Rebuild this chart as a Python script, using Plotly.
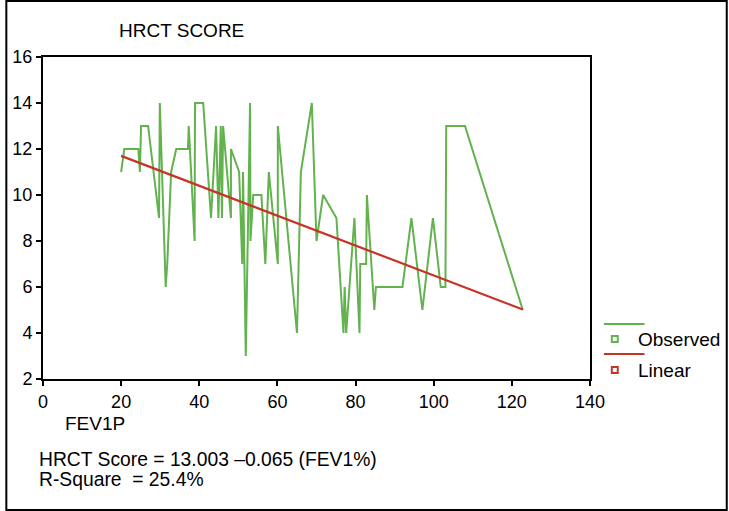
import plotly.graph_objects as go

# ---- data ----
fev1p = [20, 20.8, 24.4, 24.8, 25.1, 26.9, 29.7, 29.9, 31.4, 31.8, 32.8, 34.1, 37.1, 37.3,
         38.8, 38.9, 41.0, 43.0, 44.3, 44.9, 45.5, 45.8, 46.1, 48.1, 48.1, 50.2, 51.0, 51.2,
         51.9, 53.0, 53.1, 53.8, 55.9, 56.9, 57.8, 60.1, 60.1, 65.0, 66.0, 68.8, 70.0, 71.7,
         75.1, 76.9, 77.2, 77.6, 79.7, 81.0, 81.2, 82.7, 82.9, 84.4, 84.8, 85.2, 92.0, 94.3,
         97.1, 99.8, 101.8, 103.0, 103.2, 108.0, 122.8]
hrct_observed = [11, 12, 12, 11, 13, 13, 9, 14, 6, 7, 11, 12, 12, 13,
                 8, 14, 14, 9, 13, 9, 13, 9, 13, 9, 12, 11, 7, 11,
                 3, 14, 8, 10, 10, 7, 11, 7, 13, 4, 11, 14, 8, 10,
                 9, 4, 6, 4, 9, 4, 7, 7, 10, 6, 5, 6, 6, 9,
                 5, 9, 6, 6, 13, 13, 5]
linear_x = [20, 122.8]
linear_y = [11.70, 5.02]
x_ticks = [0, 20, 40, 60, 80, 100, 120, 140]
y_ticks = [2, 4, 6, 8, 10, 12, 14, 16]

GREEN = "rgb(98,178,78)"
RED = "rgb(198,52,40)"
FONT = "Liberation Sans, Arial, sans-serif"

FW, FH = 729, 511
L, T, W, H = 38, 57, 552, 322


def px(x):
    return (x - L) / W


def py(y):
    return (T + H - y) / H


fig = go.Figure()
fig.add_trace(go.Scatter(x=fev1p, y=hrct_observed, mode="lines",
                         line=dict(color=GREEN, width=2), showlegend=False))
fig.add_trace(go.Scatter(x=linear_x, y=linear_y, mode="lines",
                         line=dict(color=RED, width=2.2), showlegend=False))

axis_common = dict(showline=True, linecolor="black", linewidth=2, mirror=True,
                   ticks="outside", ticklen=5, tickwidth=1.5, tickcolor="black",
                   showgrid=False, zeroline=False,
                   tickfont=dict(family=FONT, size=18, color="black"))
fig.update_xaxes(range=[0, 140], tickvals=x_ticks, **axis_common)
fig.update_yaxes(range=[2, 16], tickvals=y_ticks, **axis_common)

shapes = [
    dict(type="rect", xref="paper", yref="paper", x0=px(1), x1=px(728), y0=py(510), y1=py(1),
         line=dict(color="black", width=2)),
    # legend keys
    dict(type="line", xref="paper", yref="paper", x0=px(604), x1=px(645), y0=py(324), y1=py(324),
         line=dict(color=GREEN, width=2)),
    dict(type="rect", xref="paper", yref="paper", x0=px(612), x1=px(618), y0=py(342), y1=py(336),
         line=dict(color=GREEN, width=2)),
    dict(type="line", xref="paper", yref="paper", x0=px(604), x1=px(645), y0=py(354), y1=py(354),
         line=dict(color=RED, width=2)),
    dict(type="rect", xref="paper", yref="paper", x0=px(612), x1=px(618), y0=py(373), y1=py(367),
         line=dict(color=RED, width=2)),
]

def ann(text, x, y, size=19):
    return dict(text=text, xref="paper", yref="paper", x=px(x), y=py(y),
                xanchor="left", yanchor="middle", showarrow=False,
                font=dict(family=FONT, size=size, color="black"))

annotations = [
    ann("HRCT SCORE", 113, 30),
    ann("Observed", 636, 339),
    ann("Linear", 636, 370),
    ann("FEV1P", 58, 423),
    ann("HRCT Score = 13.003 \u20130.065 (FEV1%)", 32, 459, 19.3),
    ann("R-Square  = 25.4%", 32, 480, 19.3),
]

fig.update_layout(width=FW, height=FH, margin=dict(l=L, r=FW - L - W, t=T, b=FH - T - H),
                  paper_bgcolor="white", plot_bgcolor="white",
                  shapes=shapes, annotations=annotations, showlegend=False)

fig.write_html("out.html", config={"displayModeBar": False},
               post_script="document.body.style.margin='0';document.body.style.overflow='hidden';")
